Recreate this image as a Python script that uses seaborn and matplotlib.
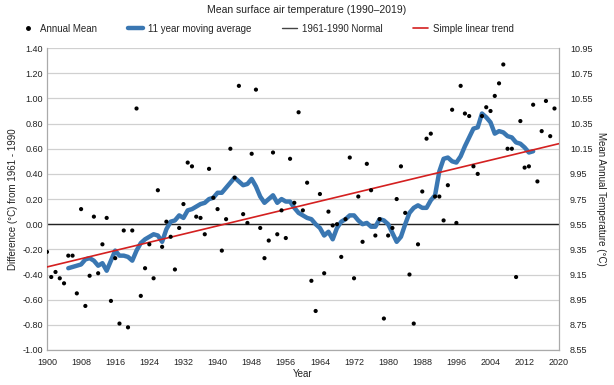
import numpy as np
import pandas as pd
import seaborn as sns
import matplotlib.pyplot as plt
from matplotlib.lines import Line2D

# Annual mean anomaly (deg C from 1961-1990), 1900-2019
years = list(range(1900, 2020))
annual_mean = [
    -0.22, -0.42, -0.38, -0.43, -0.47, -0.25, -0.25, -0.55, 0.12, -0.65,   # 1900s
    -0.41, 0.06, -0.39, -0.16, 0.05, -0.61, -0.27, -0.79, -0.05, -0.82,    # 1910s
    -0.05, 0.92, -0.57, -0.35, -0.16, -0.43, 0.27, -0.18, 0.02, -0.10,     # 1920s
    -0.36, -0.03, 0.16, 0.49, 0.46, 0.06, 0.05, -0.08, 0.44, 0.21,         # 1930s
    0.12, -0.21, 0.04, 0.60, 0.37, 1.10, 0.08, 0.01, 0.56, 1.07,           # 1940s
    -0.03, -0.27, -0.13, 0.57, -0.08, 0.11, -0.11, 0.52, 0.17, 0.89,       # 1950s
    0.11, 0.33, -0.45, -0.69, 0.24, -0.39, 0.10, -0.01, 0.00, -0.26,       # 1960s
    0.04, 0.53, -0.43, 0.22, -0.14, 0.48, 0.27, -0.09, 0.04, -0.75,        # 1970s
    -0.09, -0.03, 0.20, 0.46, 0.09, -0.40, -0.79, -0.16, 0.26, 0.68,       # 1980s
    0.72, 0.22, 0.22, 0.03, 0.31, 0.91, 0.01, 1.10, 0.88, 0.86,            # 1990s
    0.46, 0.40, 0.86, 0.93, 0.90, 1.02, 1.12, 1.27, 0.60, 0.60,            # 2000s
    -0.42, 0.82, 0.45, 0.46, 0.95, 0.34, 0.74, 0.98, 0.70, 0.92,           # 2010s
]

# 11 year moving average as drawn, 1905-2014
ma_years = list(range(1905, 2015))
moving_avg = [
    -0.35, -0.34, -0.33, -0.32, -0.28,
    -0.27, -0.29, -0.33, -0.31, -0.37, -0.29, -0.21, -0.25, -0.25, -0.26,
    -0.29, -0.21, -0.15, -0.12, -0.10, -0.08, -0.09, -0.14, -0.04, 0.02,
    0.03, 0.07, 0.05, 0.11, 0.12, 0.14, 0.16, 0.17, 0.20, 0.21,
    0.25, 0.25, 0.29, 0.33, 0.37, 0.34, 0.31, 0.32, 0.36, 0.30,
    0.22, 0.17, 0.20, 0.23, 0.17, 0.20, 0.18, 0.18, 0.13, 0.09,
    0.07, 0.05, 0.04, 0.00, -0.03, -0.09, -0.06, -0.12, -0.03, 0.02,
    0.04, 0.07, 0.07, 0.03, 0.00, 0.01, -0.02, -0.02, 0.04, 0.03,
    0.00, -0.07, -0.14, -0.10, 0.00, 0.09, 0.13, 0.15, 0.13, 0.13,
    0.19, 0.23, 0.42, 0.52, 0.53, 0.50, 0.49, 0.54, 0.62, 0.69,
    0.76, 0.77, 0.88, 0.85, 0.81, 0.72, 0.74, 0.73, 0.70, 0.69,
    0.65, 0.64, 0.61, 0.57, 0.58,
]

# simple linear trend end points
trend_years = [1900, 2020]
trend_vals = [-0.34, 0.64]

normal_years = [1900, 2020]
normal_vals = [0.0, 0.0]

base_temp = 9.55  # 1961-1990 normal (deg C)

df = pd.DataFrame({'Year': years, 'Anomaly': annual_mean})
ma = pd.DataFrame({'Year': ma_years, 'Anomaly': moving_avg})
tr = pd.DataFrame({'Year': trend_years, 'Anomaly': trend_vals})
nm = pd.DataFrame({'Year': normal_years, 'Anomaly': normal_vals})

sns.set_style('white')
plt.rcParams['font.family'] = ['Liberation Sans', 'DejaVu Sans']

fig = plt.figure(figsize=(6.14, 3.85), dpi=100)
ax = fig.add_axes([0.0765, 0.091, 0.8335, 0.784])

blue = '#3A77B2'
red = '#D42020'
grid = '#D0D0D0'

ax.set_axisbelow(True)
lticks = np.round(np.arange(-1.0, 1.41, 0.2), 2) + 0.0
for v in lticks:
    ax.axhline(v, color=grid, lw=0.9, zorder=0)

sns.lineplot(data=nm, x='Year', y='Anomaly', ax=ax, color='#222222', lw=1.0, zorder=2)
sns.lineplot(data=ma, x='Year', y='Anomaly', ax=ax, color=blue, lw=3.2, zorder=3,
             solid_capstyle='round', solid_joinstyle='round')
sns.lineplot(data=tr, x='Year', y='Anomaly', ax=ax, color=red, lw=1.2, zorder=4)
sns.scatterplot(data=df, x='Year', y='Anomaly', ax=ax, color='black', s=9,
                edgecolor='none', zorder=5)

ax.set_xlim(1900, 2020)
ax.set_ylim(-1.0, 1.4)
ax.set_xticks(range(1900, 2021, 8))
ax.set_xticks(range(1900, 2021, 2), minor=True)
ax.set_yticks(lticks)
ax.set_yticklabels(['%.2f' % (v + 0.0) for v in lticks])
ax.tick_params(axis='both', labelsize=6.5, colors='#222222', length=0, pad=3)
ax.tick_params(axis='x', which='both', direction='out', length=2.5, color='#999999')
ax.set_xlabel('Year', fontsize=7, color='#222222', labelpad=2)
ax.set_ylabel('Difference (°C) from 1961 - 1990', fontsize=7, color='#222222', labelpad=3)

for s in ['left', 'bottom', 'right']:
    ax.spines[s].set_color('#AAAAAA')
    ax.spines[s].set_linewidth(0.9)
ax.spines['top'].set_visible(False)

ax2 = ax.twinx()
ax2.set_ylim(base_temp - 1.0, base_temp + 1.4)
rticks = np.round(np.arange(8.55, 10.96, 0.2), 2)
ax2.set_yticks(rticks)
ax2.set_yticklabels(['%.2f' % v for v in rticks])
ax2.tick_params(axis='y', labelsize=6.5, colors='#222222', length=0, pad=8)
ax2.set_ylabel('Mean Annual Temperature (°C)', fontsize=7, color='#222222',
               rotation=270, labelpad=10)
for s in ax2.spines.values():
    s.set_visible(False)

fig.text(0.5, 0.975, 'Mean surface air temperature (1990–2019)', ha='center',
         va='center', fontsize=7.5, color='#222222')

handles = [
    Line2D([], [], marker='o', ls='none', color='black', markersize=2.5),
    Line2D([], [], color=blue, lw=3.2),
    Line2D([], [], color='#444444', lw=1.0),
    Line2D([], [], color=red, lw=1.2),
]
labels = ['Annual Mean', '11 year moving average', '1961-1990 Normal', 'Simple linear trend']
fig.legend(handles, labels, loc='center', bbox_to_anchor=(0.435, 0.925), ncol=4,
           frameon=False, fontsize=7, handlelength=1.5, columnspacing=3.2,
           handletextpad=0.5)

plt.savefig('out.png', dpi=100)
